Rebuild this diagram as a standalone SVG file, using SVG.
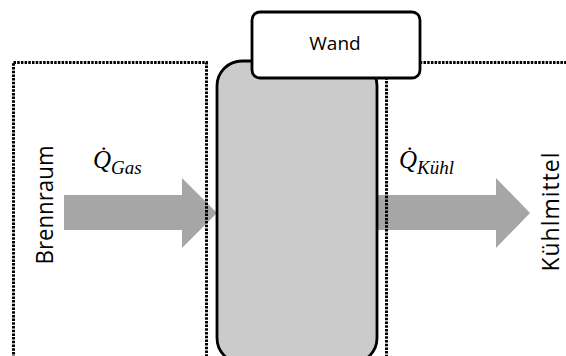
<svg xmlns="http://www.w3.org/2000/svg" width="566" height="356" viewBox="0 0 566 356">
  <style>
    .zone { fill: none; stroke: #000; stroke-width: 3; stroke-dasharray: 2.5 1.2; }
    .flow { fill: #a6a6a6; stroke: none; }
    .wall { fill: #cbcbcb; stroke: #000; stroke-width: 2.8; }
    .tag { fill: #fff; stroke: #000; stroke-width: 2.8; }
    .lbl { font-family: "Open Sans", "Liberation Sans", sans-serif; fill: #000; }
    .math { font-family: "Liberation Serif", "DejaVu Serif", serif; font-style: italic; fill: #000; }
  </style>
  <rect width="566" height="356" fill="#fff"/>

  <!-- heat flow arrows -->
  <g id="connectors">
    <polygon id="flow-gas" class="flow" points="64,195 182,195 182,178 217,213 182,248 182,230 64,230"/>
    <polygon id="flow-coolant" class="flow" points="378,195 496,195 496,178 530,213 496,248 496,230 378,230"/>
  </g>

  <!-- wall body -->
  <g id="wall">
    <rect class="wall" x="217" y="61" width="160" height="302" rx="25" ry="25"/>
  </g>

  <!-- combustion chamber region -->
  <g id="brennraum">
    <rect class="zone" x="13.5" y="62.5" width="193" height="310"/>
    <text class="lbl" font-size="23" text-anchor="middle" textLength="119" lengthAdjust="spacingAndGlyphs" transform="translate(53,205) rotate(-90)">Brennraum</text>
  </g>

  <!-- coolant region -->
  <g id="kuehlmittel">
    <rect class="zone" x="386.5" y="62.5" width="200" height="310"/>
    <text class="lbl" font-size="23" text-anchor="middle" textLength="119" transform="translate(559,212) rotate(-90)">Kühlmittel</text>
  </g>

  <!-- wall label box -->
  <g id="wand">
    <rect class="tag" x="252" y="12" width="168" height="66" rx="8" ry="8"/>
    <text class="lbl" x="335" y="50" font-size="19" text-anchor="middle">Wand</text>
  </g>

  <!-- heat flux labels -->
  <g id="q-gas">
    <text class="math" x="93" y="168" font-size="25">Q̇<tspan font-size="19" dy="6">Gas</tspan></text>
  </g>
  <g id="q-kuehl">
    <text class="math" x="399" y="168" font-size="25">Q̇<tspan font-size="19" dy="6">Kühl</tspan></text>
  </g>
</svg>
